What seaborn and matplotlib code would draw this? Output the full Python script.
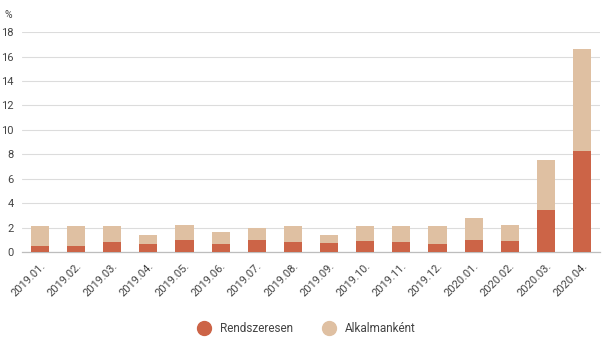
import numpy as np
import pandas as pd
import matplotlib
matplotlib.use("Agg")
import matplotlib.pyplot as plt
import seaborn as sns
from matplotlib.lines import Line2D
from matplotlib.ticker import FixedLocator

months = ["2019.01.", "2019.02.", "2019.03.", "2019.04.", "2019.05.", "2019.06.",
          "2019.07.", "2019.08.", "2019.09.", "2019.10.", "2019.11.", "2019.12.",
          "2020.01.", "2020.02.", "2020.03.", "2020.04."]
rendszeresen = [0.5, 0.5, 0.8, 0.7, 0.95, 0.7, 1.0, 0.8, 0.75, 0.9, 0.85, 0.65,
                1.0, 0.9, 3.45, 8.3]
alkalmankent = [1.6, 1.6, 1.3, 0.7, 1.25, 0.95, 0.95, 1.35, 0.65, 1.25, 1.3, 1.5,
                1.8, 1.3, 4.05, 8.3]
y_ticks = [0, 2, 4, 6, 8, 10, 12, 14, 16, 18]

RED = "#cc6447"
BEIGE = "#dfc0a2"

sns.set_theme(style="white")
plt.rcParams["font.family"] = ["Roboto", "DejaVu Sans"]

df = pd.DataFrame({
    "honap": months,
    "Rendszeresen": rendszeresen,
    "Alkalmanként": alkalmankent,
})
df["osszes"] = df["Rendszeresen"] + df["Alkalmanként"]

fig = plt.figure(figsize=(6.08, 3.42), dpi=100)
ax = fig.add_axes([0.036, 0.263, 0.951, 0.643])

sns.barplot(data=df, x="honap", y="osszes", color=BEIGE, width=0.5,
            saturation=1, linewidth=0, ax=ax, zorder=2)
sns.barplot(data=df, x="honap", y="Rendszeresen", color=RED, width=0.5,
            saturation=1, linewidth=0, ax=ax, zorder=3)

ax.set_ylim(0, 18)
ax.set_xlim(-0.5, len(months) - 0.5)
ax.set_yticks(y_ticks)
ax.yaxis.grid(True, color="#dcdcdc", linewidth=0.8, zorder=0)
ax.set_axisbelow(True)
ax.set_xlabel("")
ax.set_ylabel("")

for side in ["top", "right", "left"]:
    ax.spines[side].set_visible(False)
ax.spines["bottom"].set_color("#bdbdbd")
ax.spines["bottom"].set_linewidth(0.9)

ax.tick_params(axis="y", length=0, pad=6, labelsize=8, labelcolor="#444444")
ax.set_xticks(range(len(months)))
ax.set_xticklabels(months, rotation=45, ha="right", rotation_mode="anchor",
                   fontsize=8, color="#444444")
ax.tick_params(axis="x", which="major", length=0, pad=6)
ax.xaxis.set_minor_locator(FixedLocator(np.arange(-0.5, len(months), 1.0)))
ax.tick_params(axis="x", which="minor", length=5, width=0.9, color="#bdbdbd",
               direction="out")

fig.text(0.008, 0.955, "%", fontsize=7.5, color="#444444", ha="left", va="center")

handles = [
    Line2D([0], [0], marker="o", linestyle="", markersize=10,
           markerfacecolor=RED, markeredgecolor=RED, label="Rendszeresen"),
    Line2D([0], [0], marker="o", linestyle="", markersize=10,
           markerfacecolor=BEIGE, markeredgecolor=BEIGE, label="Alkalmanként"),
]
fig.legend(handles=handles, loc="center", bbox_to_anchor=(0.5, 0.04), ncol=2,
           frameon=False, fontsize=8.5, handletextpad=0.4, columnspacing=2.0,
           labelcolor="#444444")

fig.savefig("out.png", dpi=100)
